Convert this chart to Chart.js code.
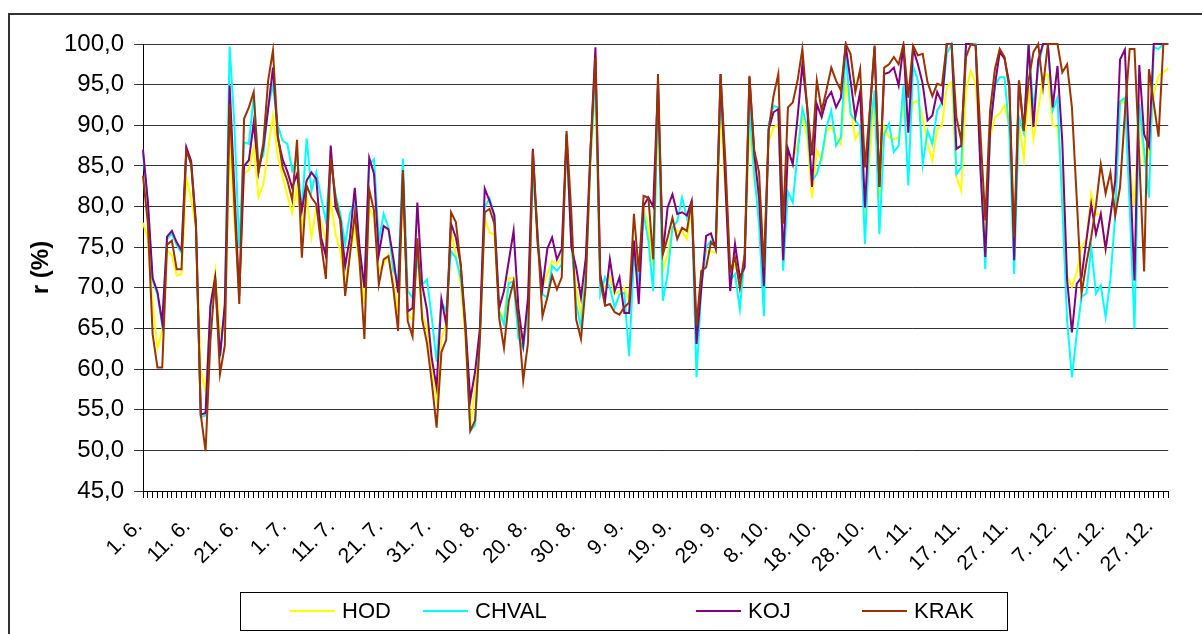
<!DOCTYPE html>
<html>
<head>
<meta charset="utf-8">
<title>r (%)</title>
<script src="https://cdn.jsdelivr.net/npm/chart.js@4.4.1/dist/chart.umd.min.js"></script>
<style>
    html, body { margin: 0; padding: 0; background: #fff; }
    canvas { display: block; }
</style>
</head>
<body>
<canvas id="chartR" width="1202" height="634"></canvas>
<script>
// ================= DATOS =================
// the source table counts 31 days in September (labels jump 29. 9. -> 8. 10.)
const monthNums = [6, 7, 8, 9, 10, 11, 12];
const monthDays = [30, 31, 31, 31, 31, 30, 31];

const yMin = 45;
const yMax = 100;
const yStep = 5;

const seriesNames = ['HOD', 'CHVAL', 'KOJ', 'KRAK'];

const hod = [
    78.0, 76.0, 68.0, 62.6, 64.7, 74.6, 74.0, 71.5, 71.7, 83.5,
    80.9, 77.4, 59.8, 57.3, 67.6, 72.0, 64.3, 66.0, 88.0, 78.0,
    70.0, 84.0, 84.5, 87.3, 81.2, 82.7, 87.0, 91.2, 86.2, 83.7,
    81.3, 79.2, 82.3, 77.4, 81.1, 76.2, 79.9, 78.2, 75.8, 80.7,
    76.6, 74.5, 70.2, 74.1, 77.4, 72.5, 68.0, 79.9, 78.6, 72.1,
    72.9, 74.1, 70.8, 67.0, 82.8, 66.7, 66.1, 74.5, 66.7, 65.0,
    60.5, 56.2, 63.8, 65.5, 77.0, 74.1, 70.4, 63.8, 52.8, 57.6,
    63.8, 78.5, 76.8, 76.6, 67.1, 66.3, 71.2, 71.2, 65.5, 63.5,
    66.0, 85.6, 75.8, 70.0, 71.7, 73.3, 72.9, 73.7, 87.3, 75.4,
    70.0, 66.7, 72.1, 85.6, 95.1, 70.4, 70.0, 71.3, 69.2, 69.6,
    70.0, 68.4, 75.4, 71.7, 79.9, 77.4, 72.5, 92.2, 72.1, 74.1,
    77.4, 77.0, 77.0, 76.0, 79.9, 64.5, 71.7, 74.5, 74.5, 74.3,
    92.2, 81.9, 71.7, 72.9, 70.9, 73.3, 90.1, 83.2, 80.7, 72.5,
    88.1, 89.7, 90.1, 72.9, 86.1, 85.7, 87.7, 91.0, 88.5, 81.1,
    86.9, 85.7, 89.3, 89.8, 88.5, 87.7, 95.1, 92.2, 88.3, 89.3,
    78.7, 86.1, 93.4, 81.1, 89.8, 88.5, 88.3, 88.5, 92.6, 90.2,
    92.8, 93.0, 91.0, 87.7, 85.7, 89.5, 90.0, 94.7, 95.3, 83.6,
    82.0, 94.3, 96.7, 95.1, 85.7, 76.2, 88.5, 91.0, 91.4, 92.4,
    89.8, 75.0, 90.2, 85.9, 94.7, 88.3, 91.8, 95.9, 96.3, 90.0,
    89.8, 83.0, 71.5, 70.1, 71.9, 75.0, 76.0, 81.6, 79.0, 79.1,
    74.6, 78.7, 83.0, 92.6, 93.0, 85.0, 80.0, 92.0, 85.4, 86.5,
    93.9, 96.1, 96.5, 97.0
];

const chval = [
    86.7, 80.4, 70.9, 69.2, 65.4, 76.0, 76.7, 75.3, 74.3, 87.0,
    85.3, 77.7, 54.1, 54.3, 67.5, 71.0, 61.3, 67.7, 99.7, 90.0,
    75.0, 87.9, 87.7, 93.6, 85.3, 86.3, 92.2, 95.0, 90.0, 88.1,
    87.7, 84.4, 86.0, 79.5, 88.4, 81.9, 84.2, 81.1, 78.2, 85.6,
    81.5, 79.1, 75.4, 79.1, 80.7, 74.1, 70.0, 85.2, 85.8, 75.8,
    79.1, 77.4, 72.1, 71.0, 85.9, 69.6, 68.8, 73.3, 70.4, 71.0,
    66.3, 60.9, 68.3, 67.1, 74.5, 73.7, 71.2, 65.5, 52.4, 53.1,
    63.8, 79.9, 81.0, 79.0, 67.1, 65.5, 70.6, 70.8, 63.8, 62.5,
    67.6, 84.0, 76.6, 69.2, 68.8, 72.7, 72.1, 72.9, 88.1, 75.8,
    68.0, 65.1, 71.7, 86.0, 96.3, 69.2, 71.3, 70.0, 67.6, 69.2,
    69.4, 61.6, 73.7, 70.9, 79.1, 75.8, 69.6, 94.7, 68.4, 71.7,
    77.4, 78.2, 81.1, 78.6, 80.3, 59.0, 70.0, 75.0, 75.8, 75.0,
    94.3, 84.8, 70.9, 71.7, 67.4, 73.7, 92.2, 84.0, 77.8, 66.5,
    90.1, 92.4, 92.2, 72.1, 81.8, 80.5, 86.5, 92.0, 89.8, 83.2,
    84.0, 86.1, 89.8, 91.8, 87.5, 88.5, 99.2, 91.4, 90.6, 89.8,
    75.4, 89.3, 94.3, 76.6, 88.9, 90.2, 86.7, 87.5, 94.9, 82.6,
    97.3, 95.5, 85.2, 89.3, 87.7, 91.8, 92.8, 98.8, 100, 84.0,
    84.8, 100, 100, 100, 85.2, 72.3, 89.3, 94.9, 95.9, 95.9,
    89.3, 71.7, 91.0, 89.1, 100, 92.0, 97.0, 100, 100, 91.8,
    93.4, 80.0, 66.0, 59.0, 64.3, 68.9, 69.3, 75.0, 69.3, 70.3,
    66.4, 71.1, 79.0, 92.9, 93.4, 80.0, 65.0, 92.6, 86.9, 81.1,
    99.6, 99.4, 100, 100
];

const koj = [
    87.0, 80.7, 71.2, 69.5, 65.7, 76.3, 77.0, 75.6, 74.6, 87.3,
    85.6, 78.0, 54.4, 54.6, 67.8, 71.3, 61.6, 68.0, 94.9, 82.0,
    69.0, 85.0, 85.7, 90.3, 84.3, 87.3, 92.0, 97.1, 88.5, 85.8,
    84.3, 82.3, 84.0, 79.5, 83.2, 84.2, 83.4, 76.2, 73.9, 87.5,
    79.9, 78.4, 72.7, 76.2, 82.3, 74.9, 70.0, 86.0, 84.0, 74.1,
    77.6, 77.2, 73.7, 69.4, 84.0, 67.1, 67.5, 80.5, 70.4, 67.3,
    61.3, 57.8, 68.6, 65.5, 77.9, 76.2, 72.9, 65.5, 56.2, 59.7,
    65.0, 82.2, 80.7, 78.9, 67.5, 69.6, 73.3, 77.0, 67.5, 63.0,
    68.8, 87.1, 75.4, 70.0, 74.8, 76.2, 73.5, 74.8, 88.9, 75.0,
    72.5, 68.8, 73.7, 87.3, 99.6, 71.7, 68.4, 73.5, 69.6, 71.3,
    66.9, 66.9, 75.8, 68.0, 80.1, 81.1, 80.0, 95.0, 74.1, 79.9,
    81.5, 79.1, 79.3, 78.9, 80.7, 63.1, 70.0, 76.4, 76.7, 74.8,
    96.3, 82.8, 69.6, 75.4, 71.3, 72.5, 95.9, 86.5, 81.1, 70.2,
    89.5, 91.6, 92.0, 73.4, 87.1, 85.2, 91.0, 97.5, 92.2, 82.4,
    92.6, 91.0, 93.2, 94.1, 92.2, 93.4, 99.8, 95.5, 91.0, 94.1,
    79.9, 91.4, 99.6, 82.4, 96.3, 96.5, 97.1, 94.9, 99.8, 89.1,
    99.4, 97.5, 95.1, 90.6, 91.2, 94.1, 92.8, 100, 100, 87.1,
    87.5, 100, 100, 99.8, 84.4, 73.8, 89.3, 94.9, 99.0, 98.2,
    95.1, 73.4, 95.5, 89.3, 100, 89.8, 98.0, 100, 100, 92.2,
    97.3, 88.0, 71.0, 64.5, 70.5, 71.3, 75.8, 80.3, 76.6, 79.1,
    74.8, 78.9, 83.2, 98.1, 99.3, 85.4, 70.9, 97.4, 88.9, 87.4,
    100, 100, 100, 100
];

const krak = [
    83.8, 78.0, 64.3, 60.2, 60.2, 75.3, 75.8, 72.3, 72.3, 86.9,
    85.2, 77.4, 54.4, 49.9, 63.5, 71.2, 59.4, 62.9, 92.6, 80.0,
    68.0, 90.8, 92.2, 94.1, 84.3, 87.8, 95.5, 99.2, 88.8, 84.8,
    83.2, 80.8, 88.2, 73.7, 82.6, 81.1, 80.3, 75.4, 71.1, 86.0,
    81.1, 78.2, 69.0, 74.1, 79.1, 73.3, 63.7, 82.1, 79.5, 70.4,
    73.5, 73.9, 70.0, 64.7, 84.5, 65.9, 64.0, 76.1, 66.1, 63.2,
    58.4, 52.8, 62.1, 63.6, 79.3, 78.1, 72.9, 64.6, 52.4, 53.7,
    63.8, 79.3, 79.7, 77.9, 66.3, 62.6, 68.4, 70.8, 65.9, 58.6,
    63.3, 86.9, 76.2, 66.5, 68.8, 71.5, 69.8, 71.3, 89.3, 79.1,
    66.1, 63.7, 70.4, 87.3, 98.4, 70.9, 67.8, 68.0, 67.0, 66.7,
    67.6, 68.2, 79.1, 72.0, 81.3, 81.1, 73.5, 96.3, 74.1, 76.2,
    78.6, 76.0, 77.4, 77.0, 80.7, 65.3, 72.1, 72.5, 75.6, 75.0,
    96.3, 85.6, 72.1, 73.7, 70.0, 74.1, 96.1, 86.9, 84.2, 72.5,
    89.5, 93.6, 96.3, 77.9, 92.2, 92.8, 95.5, 99.4, 92.2, 86.3,
    95.5, 91.8, 94.3, 97.1, 95.5, 94.3, 100, 98.8, 94.1, 96.9,
    84.8, 91.8, 99.8, 82.4, 97.1, 97.5, 98.4, 97.5, 100, 93.4,
    99.8, 98.6, 98.8, 95.3, 93.6, 95.1, 94.9, 100, 100, 91.0,
    88.1, 98.4, 100, 99.8, 88.9, 78.3, 91.8, 96.9, 99.4, 98.4,
    94.5, 76.2, 95.5, 89.3, 95.5, 99.0, 100, 94.7, 100, 100,
    100, 96.5, 97.5, 92.2, 81.0, 69.3, 73.0, 76.2, 80.1, 85.2,
    81.6, 84.2, 78.9, 82.4, 91.4, 99.4, 99.4, 86.0, 72.0, 96.9,
    92.7, 88.6, 100, 100
];

// ================= ESTILO =================
const FONT = '"Liberation Sans", Arial, sans-serif';
const seriesColors = ['#ffff00', '#00ffff', '#800080', '#993300'];

// días "1. 6." ... (as many as there are values)
const days = [];
monthNums.forEach((m, k) => {
    for (let d = 1; d <= monthDays[k]; d++) days.push(d + '. ' + m + '.');
});
days.length = hod.length;

// ================= MARCO Y LEYENDA =================
const framePlugin = {
    id: 'frame',
    beforeDraw(chart) {
        const ctx = chart.ctx;
        ctx.save();
        ctx.fillStyle = '#fff';
        ctx.fillRect(0, 0, chart.width, chart.height);
        ctx.strokeStyle = '#333';
        ctx.lineWidth = 2;
        ctx.beginPath();
        ctx.moveTo(9, chart.height + 5);
        ctx.lineTo(9, 14);
        ctx.lineTo(chart.width + 5, 14);
        ctx.stroke();
        ctx.restore();
    }
};

const legendBox = { x: 240, y: 592, w: 767, h: 38 };
const legendItems = [290, 423, 696, 862];

const legendPlugin = {
    id: 'boxLegend',
    afterDraw(chart) {
        const ctx = chart.ctx;
        const cy = legendBox.y + legendBox.h / 2;
        ctx.save();
        ctx.strokeStyle = '#000';
        ctx.lineWidth = 1;
        ctx.strokeRect(legendBox.x + 0.5, legendBox.y + 0.5, legendBox.w, legendBox.h);
        ctx.font = '22px ' + FONT;
        ctx.textBaseline = 'middle';
        ctx.fillStyle = '#000';
        seriesNames.forEach((name, i) => {
            const x = legendItems[i];
            ctx.strokeStyle = seriesColors[i];
            ctx.lineWidth = 2;
            ctx.beginPath();
            ctx.moveTo(x, cy);
            ctx.lineTo(x + 45, cy);
            ctx.stroke();
            ctx.fillText(name, x + 52, cy + 1);
        });
        ctx.restore();
    }
};

// ================= GRÁFICO =================
function createChart() {
    const ctx = document.getElementById('chartR');
    const series = [hod, chval, koj, krak];

    return new Chart(ctx, {
        type: 'line',
        data: {
            labels: days,
            datasets: series.map((values, i) => ({
                label: seriesNames[i],
                data: values,
                borderColor: seriesColors[i],
                backgroundColor: seriesColors[i],
                borderWidth: 2,
                pointRadius: 0,
                tension: 0,
                clip: 3,
                order: series.length - i   // KRAK on top, like the original
            }))
        },
        options: {
            responsive: false,
            animation: false,
            devicePixelRatio: 1,
            layout: { padding: { left: 23, top: 44, right: 12, bottom: 0 } },
            plugins: {
                legend: { display: false },
                tooltip: { enabled: false }
            },
            scales: {
                x: {
                    offset: false,
                    grid: {
                        drawOnChartArea: false,
                        drawTicks: true,
                        tickLength: 7,
                        color: '#000'
                    },
                    border: { color: '#000', width: 1 },
                    ticks: {
                        autoSkip: false,
                        minRotation: 45,
                        maxRotation: 45,
                        padding: 16,
                        labelOffset: -4,
                        color: '#000',
                        font: { family: FONT, size: 21 },
                        callback: (v, i) => (i % 10 === 0 ? days[i] : '')
                    },
                    afterFit: (scale) => { scale.height = 143; }
                },
                y: {
                    min: yMin,
                    max: yMax,
                    grid: {
                        color: '#333',
                        lineWidth: 1,
                        tickLength: 9
                    },
                    border: { color: '#000', width: 1 },
                    ticks: {
                        stepSize: yStep,
                        padding: 10,
                        color: '#000',
                        font: { family: FONT, size: 24 },
                        callback: (v) => v.toFixed(1).replace('.', ',')
                    },
                    title: {
                        display: true,
                        text: 'r (%)',
                        color: '#000',
                        padding: { top: 4, bottom: 0 },
                        font: { family: FONT, size: 24, weight: 'bold' }
                    },
                    afterFit: (scale) => { scale.width = 120; }
                }
            }
        },
        plugins: [framePlugin, legendPlugin]
    });
}

document.addEventListener('DOMContentLoaded', () => {
    createChart();
});
</script>
</body>
</html>
